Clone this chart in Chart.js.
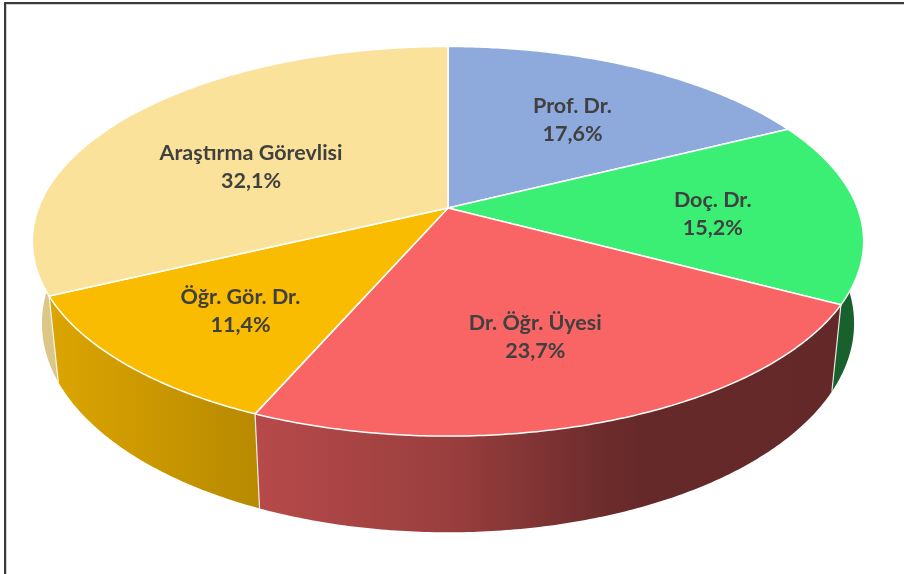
<!DOCTYPE html>
<html>
<head>
<meta charset="utf-8">
<script src="https://cdn.jsdelivr.net/npm/chart.js@4.4.1/dist/chart.umd.min.js"></script>
<style>
  html, body { margin: 0; padding: 0; background: #ffffff; overflow: hidden; }
  #wrap { position: relative; width: 904px; height: 574px; }
  #c { position: absolute; left: 0; top: 0; }
  #frame { position: absolute; left: 4px; top: 2px; width: 920px; height: 600px;
           border-left: 2px solid #3a3a3a; border-top: 2px solid #3a3a3a;
           box-shadow: inset 1px 1px 0 #cfcfcf; pointer-events: none; }
</style>
</head>
<body>
<div id="wrap">
  <canvas id="c" width="904" height="574"></canvas>
  <div id="frame"></div>
</div>
<script>
// ---- data ----
const categories = ['Prof. Dr.', 'Doç. Dr.', 'Dr. Öğr. Üyesi', 'Öğr. Gör. Dr.', 'Araştırma Görevlisi'];
const shares = [17.6, 15.2, 23.7, 11.4, 32.1];
const percentLabels = shares.map(v => v.toFixed(1).replace('.', ',') + '%');

// ---- styles ----
const faceColors = ['#8EA9DB', '#3BEF74', '#F96464', '#FABC00', '#FBE29A'];
const GEO = { kx: 411 / 208, ky: 189.8 / 208, persp: 0.171, depth: 80 / 208, bottomScale: 0.977 };
const SHADE_X = [0, 48, 255, 450, 600, 640, 904];
const SHADE_F = [0.88, 0.88, 0.735, 0.62, 0.44, 0.41, 0.40];
const LABEL_FONT = 'bold 21.5px Lato, "Open Sans", sans-serif';
const LABEL_COLOR = '#404040';

function hexToRgb(h) {
  const n = parseInt(h.slice(1), 16);
  return [(n >> 16) & 255, (n >> 8) & 255, n & 255];
}
function shade(h, f) {
  const [r, g, b] = hexToRgb(h);
  return `rgb(${Math.round(r * f)},${Math.round(g * f)},${Math.round(b * f)})`;
}

function makeProj(arc) {
  const R = arc.outerRadius, cx = arc.x, cy = arc.y;
  const B = R * GEO.kx, A = R * GEO.ky, H = R * GEO.depth, p = GEO.persp;
  return (ang, r, low) => {
    const c = Math.cos(ang), s = Math.sin(ang);
    const den = 1 - p * r * s;
    const sc = low ? GEO.bottomScale : 1;
    return [cx + B * r * c * sc / den, cy + (A * r * s + (low ? H : 0)) / den];
  };
}

function arcPoints(proj, a0, a1, r, low) {
  const n = Math.max(2, Math.ceil(Math.abs(a1 - a0) / 0.01));
  const pts = [];
  for (let i = 0; i <= n; i++) pts.push(proj(a0 + (a1 - a0) * i / n, r, low));
  return pts;
}

const pie3d = {
  id: 'pie3d',
  beforeDatasetDraw() { return false; },
  afterDatasetsDraw(chart) {
    const ctx = chart.ctx;
    const arcs = chart.getDatasetMeta(0).data;
    if (!arcs.length) return;
    const proj = makeProj(arcs[0]);
    const W = chart.width;
    ctx.save();
    // side walls (front half only)
    const lo = -0.05, hi = Math.PI + 0.05;
    arcs.forEach((arc, i) => {
      const a0 = Math.max(arc.startAngle, lo), a1 = Math.min(arc.endAngle, hi);
      if (a1 <= a0) return;
      const top = arcPoints(proj, a0, a1, 1, false);
      const bot = arcPoints(proj, a1, a0, 1, true);
      const g = ctx.createLinearGradient(0, 0, W, 0);
      SHADE_X.forEach((x, k) => g.addColorStop(Math.min(1, x / W), shade(faceColors[i], SHADE_F[k])));
      ctx.beginPath();
      top.concat(bot).forEach((pt, k) => k ? ctx.lineTo(pt[0], pt[1]) : ctx.moveTo(pt[0], pt[1]));
      ctx.closePath();
      ctx.fillStyle = g;
      ctx.fill();
    });
    // wall separators
    ctx.strokeStyle = 'rgba(255,255,255,0.85)';
    ctx.lineWidth = 1.2;
    arcs.forEach(arc => {
      const a = arc.startAngle;
      [a, a + 2 * Math.PI, a - 2 * Math.PI].forEach(ang => {
        if (ang > 0.02 && ang < Math.PI - 0.02) {
          const t = proj(ang, 1, false), b = proj(ang, 1, true);
          ctx.beginPath(); ctx.moveTo(t[0], t[1]); ctx.lineTo(b[0], b[1]); ctx.stroke();
        }
      });
    });
    // top faces
    const centroids = [];
    arcs.forEach((arc, i) => {
      const pts = [proj(0, 0, false)].concat(arcPoints(proj, arc.startAngle, arc.endAngle, 1, false));
      ctx.beginPath();
      pts.forEach((pt, k) => k ? ctx.lineTo(pt[0], pt[1]) : ctx.moveTo(pt[0], pt[1]));
      ctx.closePath();
      ctx.fillStyle = faceColors[i];
      ctx.fill();
      ctx.strokeStyle = '#ffffff';
      ctx.lineWidth = 1.5;
      ctx.lineJoin = 'round';
      ctx.stroke();
      // polygon centroid
      let A2 = 0, sx = 0, sy = 0;
      for (let k = 0; k < pts.length; k++) {
        const [x0, y0] = pts[k], [x1, y1] = pts[(k + 1) % pts.length];
        const cr = x0 * y1 - x1 * y0;
        A2 += cr; sx += (x0 + x1) * cr; sy += (y0 + y1) * cr;
      }
      centroids.push([sx / (3 * A2), sy / (3 * A2)]);
    });
    // labels
    ctx.fillStyle = LABEL_COLOR;
    ctx.font = LABEL_FONT;
    ctx.textAlign = 'center';
    ctx.textBaseline = 'middle';
    centroids.forEach((c, i) => {
      ctx.fillText(categories[i], c[0], c[1] - 14);
      ctx.fillText(percentLabels[i], c[0], c[1] + 14);
    });
    ctx.restore();
  }
};

new Chart(document.getElementById('c'), {
  type: 'pie',
  data: {
    labels: categories,
    datasets: [{ data: shares, backgroundColor: faceColors, borderColor: '#ffffff', borderWidth: 1.5 }]
  },
  options: {
    responsive: false,
    devicePixelRatio: 1,
    animation: false,
    layout: { padding: { left: 0, right: 8, top: 0, bottom: 158 } },
    plugins: { legend: { display: false }, tooltip: { enabled: false } }
  },
  plugins: [pie3d]
});
</script>
</body>
</html>
